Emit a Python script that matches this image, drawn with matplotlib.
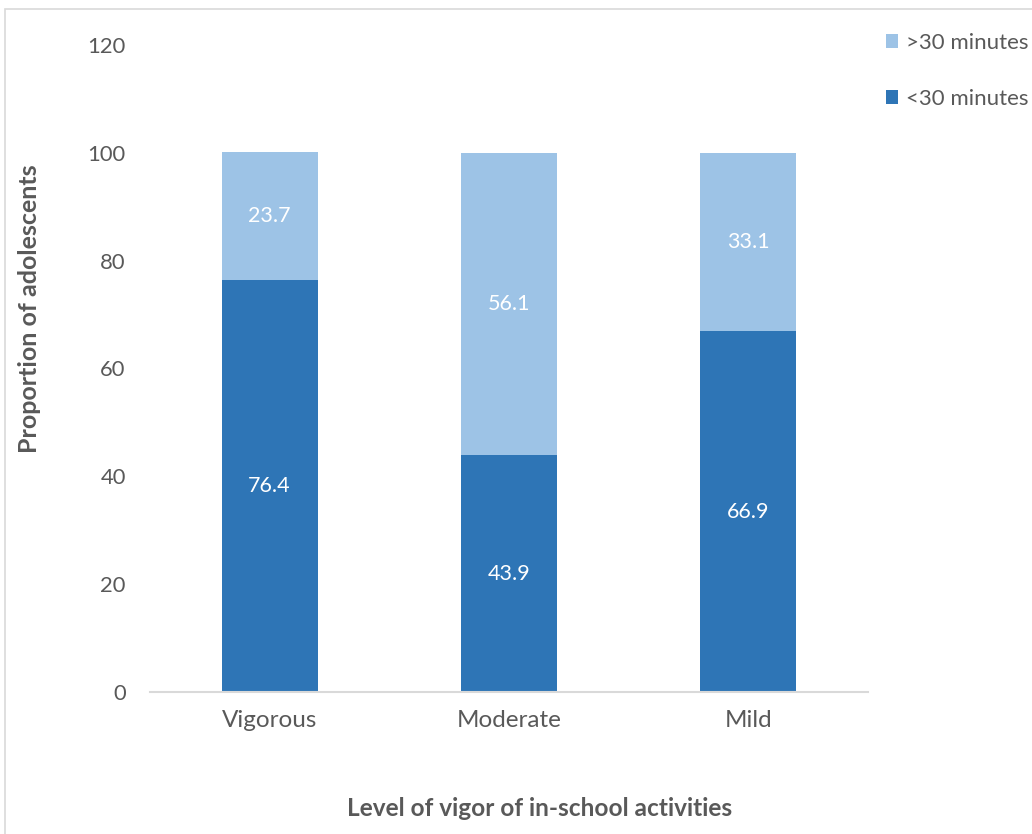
import matplotlib
matplotlib.use("Agg")
import matplotlib.pyplot as plt
from matplotlib.patches import Rectangle, Patch

categories = ["Vigorous", "Moderate", "Mild"]
under_30 = [76.4, 43.9, 66.9]
over_30 = [23.7, 56.1, 33.1]
series_names = ["<30 minutes", ">30 minutes"]
y_ticks = [0, 20, 40, 60, 80, 100, 120]

dark_blue = "#2E75B6"
light_blue = "#9DC3E6"
text_gray = "#595959"

plt.rcParams["font.family"] = ["Lato", "DejaVu Sans"]

fig = plt.figure(figsize=(10.32, 8.34), dpi=100)
ax = fig.add_axes([150 / 1032, 1 - 692 / 834, 718 / 1032, 647 / 834])

x = range(len(categories))
ax.bar(x, under_30, width=0.4, color=dark_blue, zorder=2)
ax.bar(x, over_30, width=0.4, bottom=under_30, color=light_blue, zorder=2)

for xi, lo, hi in zip(x, under_30, over_30):
    ax.text(xi, lo / 2, f"{lo:.1f}", ha="center", va="center", color="white", fontsize=15.5)
    ax.text(xi, lo + hi / 2, f"{hi:.1f}", ha="center", va="center", color="white", fontsize=15.5)

ax.set_xlim(-0.5, 2.5)
ax.set_ylim(0, 120)
ax.set_yticks(y_ticks)
ax.set_xticks(list(x))
ax.set_xticklabels(categories)
ax.tick_params(axis="both", length=0, labelcolor=text_gray)
ax.tick_params(axis="y", pad=17.5, labelsize=15.8)
ax.tick_params(axis="x", pad=13, labelsize=17.5)

for side in ["top", "right", "left"]:
    ax.spines[side].set_visible(False)
ax.spines["bottom"].set_color("#D9D9D9")
ax.spines["bottom"].set_linewidth(1.5)

fig.text(30 / 1032, 1 - 309 / 834, "Proportion of adolescents", rotation=90,
         ha="center", va="center", fontsize=18, fontweight="bold", color=text_gray)
fig.text(540 / 1032, 1 - 808 / 834, "Level of vigor of in-school activities",
         ha="center", va="center", fontsize=17.6, fontweight="bold", color=text_gray)

handles = [Patch(facecolor=light_blue), Patch(facecolor=dark_blue)]
fig.legend(handles, [series_names[1], series_names[0]], loc="upper left",
           bbox_to_anchor=(886 / 1032, 1 - 33 / 834), frameon=False,
           borderpad=0, borderaxespad=0,
           handlelength=0.55, handleheight=0.55, handletextpad=0.33,
           labelspacing=1.62, fontsize=16, labelcolor=text_gray)

# light frame around the chart area
fig.patches.append(Rectangle((5 / 1032, -0.1), 1.2, 1 - 9 / 834 + 0.1,
                             transform=fig.transFigure, fill=False,
                             edgecolor="#D9D9D9", linewidth=1.2))

fig.savefig("out.png", dpi=100)
